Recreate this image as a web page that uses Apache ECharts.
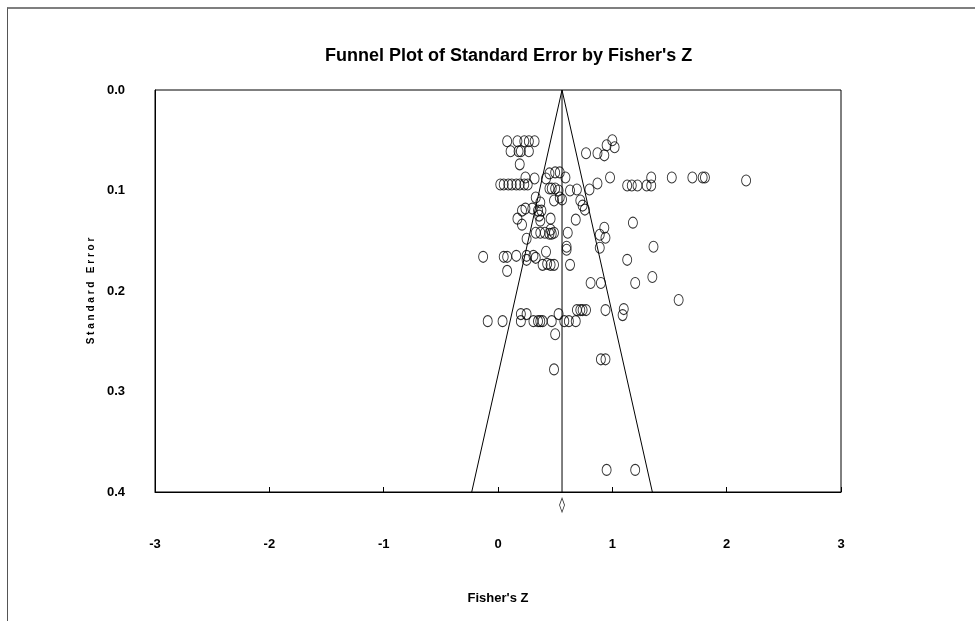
<!DOCTYPE html>
<html>
<head>
<meta charset="utf-8">
<script src="https://cdn.jsdelivr.net/npm/echarts@6/dist/echarts.min.js"></script>
<style>
  html, body { margin: 0; padding: 0; background: #fff; }
  #wrap { position: relative; width: 975px; height: 621px; }
  #frame { position: absolute; left: 7px; top: 7px; right: 0; bottom: 0;
           border-top: 2px solid #7f7f7f; border-left: 1px solid #555; pointer-events: none; }
  #chart { position: absolute; left: 0; top: 0; width: 975px; height: 621px; }
</style>
</head>
<body>
<div id="wrap">
  <div id="chart"></div>
  <div id="frame"></div>
</div>
<script>
// study points: Fisher's Z and its standard error
var fisherZ = [
  0.08, 0.17, 0.23, 0.27, 0.32,
  0.11, 0.18, 0.20, 0.27, 0.19,
  1.00, 1.02, 0.95, 0.93, 0.87, 0.77,
  0.45, 0.50, 0.54, 0.59, 0.32, 0.24, 0.42,
  0.98, 0.87, 0.80, 0.69, 0.63,
  1.13, 1.17, 1.22, 1.30, 1.34, 1.34, 1.52, 1.70, 1.79, 1.81, 2.17,
  0.02, 0.05, 0.09, 0.12, 0.16, 0.19, 0.23, 0.26,
  0.45, 0.47, 0.50, 0.53, 0.54, 0.56, 0.49,
  0.33, 0.37, 0.35, 0.38, 0.36, 0.21, 0.24, 0.17, 0.21, 0.30, 0.46, 0.37,
  0.33, 0.37, 0.41, 0.45, 0.47, 0.49, 0.46, 0.25, 0.61, 0.60,
  0.72, 0.74, 0.76, 0.68, 0.93, 0.89, 0.94, 0.89, 1.18, 1.36,
  -0.13, 0.05, 0.08, 0.16, 0.25, 0.31, 0.33, 0.42,
  0.25, 0.08, 0.39, 0.43, 0.46, 0.49, 0.63, 0.60,
  1.13, 1.35, 1.20, 0.90, 0.81, 1.58,
  0.69, 0.72, 0.74, 0.77, 0.94, 1.10, 1.09,
  -0.09, 0.04, 0.20, 0.31, 0.35, 0.37, 0.39, 0.47, 0.58, 0.62, 0.68, 0.20, 0.25, 0.53,
  0.50, 0.49, 0.90, 0.94,
  0.95, 1.20
];
var stdErr = [
  0.051, 0.051, 0.051, 0.051, 0.051,
  0.061, 0.061, 0.061, 0.061, 0.074,
  0.050, 0.057, 0.055, 0.065, 0.063, 0.063,
  0.083, 0.082, 0.082, 0.087, 0.088, 0.087, 0.088,
  0.087, 0.093, 0.099, 0.099, 0.100,
  0.095, 0.095, 0.095, 0.095, 0.095, 0.087, 0.087, 0.087, 0.087, 0.087, 0.090,
  0.094, 0.094, 0.094, 0.094, 0.094, 0.094, 0.094, 0.094,
  0.098, 0.098, 0.098, 0.100, 0.107, 0.109, 0.110,
  0.107, 0.112, 0.120, 0.120, 0.125, 0.120, 0.118, 0.128, 0.134, 0.118, 0.128, 0.130,
  0.142, 0.142, 0.142, 0.143, 0.143, 0.142, 0.139, 0.148, 0.142, 0.156,
  0.110, 0.115, 0.119, 0.129, 0.137, 0.144, 0.147, 0.157, 0.132, 0.156,
  0.166, 0.166, 0.166, 0.165, 0.165, 0.165, 0.167, 0.161,
  0.169, 0.180, 0.174, 0.173, 0.174, 0.174, 0.174, 0.159,
  0.169, 0.186, 0.192, 0.192, 0.192, 0.209,
  0.219, 0.219, 0.219, 0.219, 0.219, 0.218, 0.224,
  0.230, 0.230, 0.230, 0.230, 0.230, 0.230, 0.230, 0.230, 0.230, 0.230, 0.230, 0.223, 0.223, 0.223,
  0.243, 0.278, 0.268, 0.268,
  0.378, 0.378
];

// pooled estimate and funnel (pseudo 95% limits)
var pooledZ = 0.56;
var funnelZ = [-0.23, 0.56, 1.35];
var funnelSE = [0.4, 0, 0.4];
var diamondSE = 0.413;

var xTicks = [-3, -2, -1, 0, 1, 2, 3];
var yTicks = [0.0, 0.1, 0.2, 0.3, 0.4];

var font = "'Liberation Sans', Arial, sans-serif";

var points = fisherZ.map(function (z, i) { return [z, stdErr[i]]; });
var funnel = funnelZ.map(function (z, i) { return [z, funnelSE[i]]; });

var chart = echarts.init(document.getElementById('chart'));
chart.setOption({
  animation: false,
  title: {
    text: "Funnel Plot of Standard Error by Fisher's Z",
    left: 320,
    top: 42,
    textStyle: { fontFamily: font, fontWeight: 'bold', fontSize: 18, color: '#000' }
  },
  grid: {
    left: 155, right: 134, top: 90, bottom: 129,
    show: true, borderColor: '#000', borderWidth: 1, backgroundColor: 'transparent'
  },
  xAxis: {
    type: 'value',
    min: xTicks[0], max: xTicks[xTicks.length - 1], interval: 1,
    name: "Fisher's Z",
    nameLocation: 'middle',
    nameGap: 100,
    nameTextStyle: { fontFamily: font, fontWeight: 'bold', fontSize: 13, color: '#000' },
    axisLine: { show: true, onZero: false, lineStyle: { color: '#000' } },
    axisTick: { show: true, inside: true, length: 5, lineStyle: { color: '#000' } },
    axisLabel: { margin: 46, fontFamily: font, fontWeight: 'bold', fontSize: 13, color: '#000' },
    splitLine: { show: false }
  },
  yAxis: {
    type: 'value',
    inverse: true,
    min: yTicks[0], max: yTicks[yTicks.length - 1], interval: 0.1,
    name: 'S t a n d a r d   E r r o r',
    nameLocation: 'middle',
    nameGap: 58,
    nameTextStyle: { fontFamily: font, fontWeight: 'bold', fontSize: 10, color: '#000' },
    axisLine: { show: true, onZero: false, lineStyle: { color: '#000' } },
    axisTick: { show: false },
    axisLabel: {
      margin: 30, fontFamily: font, fontWeight: 'bold', fontSize: 13, color: '#000',
      formatter: function (v) { return v.toFixed(1); }
    },
    splitLine: { show: false }
  },
  series: [
    {
      type: 'line',
      data: funnel,
      symbol: 'none',
      lineStyle: { color: '#000', width: 1 },
      silent: true
    },
    {
      type: 'line',
      data: [[pooledZ, 0], [pooledZ, 0.4]],
      symbol: 'none',
      lineStyle: { color: '#000', width: 1 },
      silent: true
    },
    {
      type: 'scatter',
      data: points,
      symbol: 'circle',
      symbolSize: [9, 11],
      itemStyle: { color: 'rgba(0,0,0,0)', borderColor: '#000', borderWidth: 1 }
    },
    {
      type: 'scatter',
      data: [[pooledZ, diamondSE]],
      clip: false,
      symbol: 'diamond',
      symbolSize: [5, 14],
      itemStyle: { color: '#fff', borderColor: '#000', borderWidth: 1 }
    }
  ]
});
</script>
</body>
</html>
